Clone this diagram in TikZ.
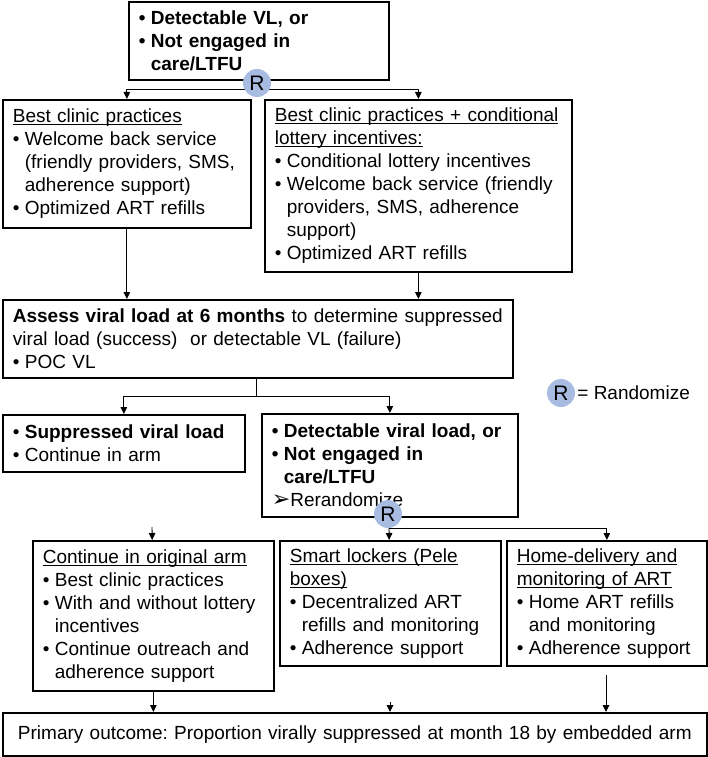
\documentclass[tikz,border=0pt]{standalone}
\usepackage{fontspec}
\setmainfont{Liberation Sans}
\newfontfamily\dingfont{DejaVu Sans}
\usetikzlibrary{arrows.meta}
\definecolor{rblue}{RGB}{168,188,226}
\newcommand\bl{\makebox[12pt][l]{\textbullet}}
\newcommand\ind{\hspace*{12pt}}
\newcommand\hdr[1]{\leavevmode\setbox0\hbox{#1}\rlap{\rule[-2.5pt]{\wd0}{0.9pt}}\box0}
\frenchspacing
\begin{document}
\begin{tikzpicture}[x=1pt,y=-1pt,>={Triangle[length=7pt,width=6.5pt]},
  font=\fontsize{19}{23}\selectfont,
  bx/.style={draw,line width=1.7pt,anchor=north west,align=left,inner xsep=10pt,inner ysep=0pt},
  rr/.style={circle,fill=rblue,minimum size=28pt,inner sep=0pt,font=\fontsize{21}{23}\selectfont},
  ln/.style={line width=0.9pt}]
\useasboundingbox (0,0) rectangle (708,757);
\node[bx,text width=240pt,minimum height=78pt] (top) at (128,1) {\bfseries
\bl Detectable VL, or\\ \bl Not engaged in\\ \ind care/LTFU};
\node[bx,text width=228pt,minimum height=128pt] (bcp) at (2,99) {\hdr{Best clinic practices}\\
\bl Welcome back service\\ \ind(friendly providers, SMS,\\ \ind adherence support)\\
\bl Optimized ART refills};
\node[bx,text width=287pt,minimum height=172pt] (bcl) at (264,99) {\hdr{Best clinic practices + conditional}\\
\hdr{lottery incentives:}\\ \bl Conditional lottery incentives\\ \bl Welcome back service (friendly\\
\ind providers, SMS, adherence\\ \ind support)\\ \bl Optimized ART refills};
\node[bx,text width=490pt,minimum height=78pt] (assess) at (2,299) {\textbf{Assess viral load at 6 months} to determine suppressed\\
viral load (success)\ \ or detectable VL (failure)\\ \bl POC VL};
\node[bx,text width=222pt,minimum height=57pt] (sup) at (2,414) {\bl\textbf{Suppressed viral load}\\ \bl Continue in arm};
\node[bx,text width=236pt,minimum height=103pt] (det) at (261,413) {\bfseries
\bl Detectable viral load, or\\ \bl Not engaged in\\ \ind care/LTFU\\
\mdseries{\dingfont\fontsize{22}{23}\selectfont ➢}Rerandomize};
\node[bx,text width=221pt,minimum height=150pt] (cont) at (32,540) {\hdr{Continue in original arm}\\
\bl Best clinic practices\\ \bl With and without lottery\\ \ind incentives\\
\bl Continue outreach and\\ \ind adherence support};
\node[bx,text width=201pt,minimum height=125pt] (smart) at (279,540) {\hdr{Smart lockers (Pele}\\ \hdr{boxes)}\\
\bl Decentralized ART\\ \ind refills and monitoring\\ \bl Adherence support};
\node[bx,text width=180pt,minimum height=125pt] (home) at (506,540) {\hdr{Home-delivery and}\\ \hdr{monitoring of ART}\\
\bl Home ART refills\\ \ind and monitoring\\ \bl Adherence support};
\node[bx,text width=684pt,minimum height=43pt,align=center] (out) at (2,712) {Primary outcome: Proportion virally suppressed at month 18 by embedded arm};
\coordinate (s1) at (257,89);
\coordinate (s2) at (256,396);
\coordinate (s3) at (389,528);
\coordinate (c1) at (152,527);
\coordinate (c2) at (390,702);
\coordinate (c3) at (606,675);
\draw[ln,->] (s1) -| (bcp);
\draw[ln,->] (s1) -| (bcl);
\draw[ln,->] (bcp) -- (bcp.south |- assess.north);
\draw[ln,->] (bcl) -- (bcl.south |- assess.north);
\draw[ln] (s2 |- assess.south) -- (s2);
\draw[ln,->] (s2) -| (sup);
\draw[ln,->] (s2) -| (det);
\draw[ln,->] (s3) -- (smart);
\draw[ln,->] (s3) -| (home);
\draw[ln,->] (c1) -- (cont);
\draw[ln,->] (cont) -- (cont.south |- out.north);
\draw[ln,->] (c2) -- (c2 |- out.north);
\draw[ln,->] (c3) -- (c3 |- out.north);
\node[rr] (r1) at (257,83) {R};
\node[rr] (r2) at (388,514) {R};
\node[rr] (leg) at (561,393) {R};
\node[right,inner sep=2pt] (legt) at (leg.east) {= Randomize};
\end{tikzpicture}
\end{document}
